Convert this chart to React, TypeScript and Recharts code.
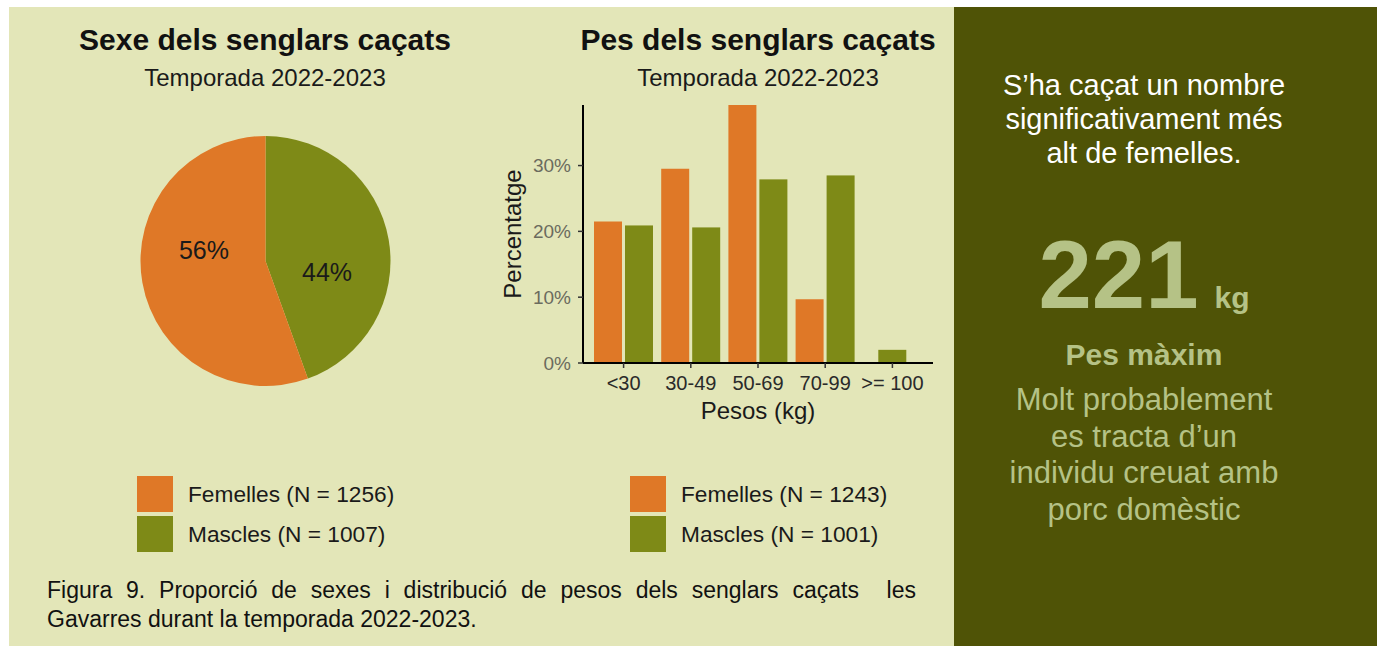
import { PieChart, Pie, Cell, BarChart, Bar, XAxis, YAxis, Label } from "recharts"

const FONT = '"Liberation Sans", Arial, Helvetica, sans-serif'
const ORANGE = "#df7827"
const GREEN = "#7e8a17"
const LIGHT_BG = "#e3e6b8"
const DARK_BG = "#4f5306"
const SOFT = "#b5c286"

// series
const sexes = ["Femelles", "Mascles"]
const sexColors = [ORANGE, GREEN]
const pieCounts = [1256, 1007]
const barCounts = [1243, 1001]

// weight classes (percentatge per sexe)
const weightClasses = ["<30", "30-49", "50-69", "70-99", ">= 100"]
const femalePct = [21.5, 29.5, 39.2, 9.7, null]
const malePct = [20.9, 20.6, 27.9, 28.5, 2.0]
const pctTicks = [0, 10, 20, 30]

const BAR_GAP = 3

// pie goes clockwise from the top: males first, then females
const pieData = [
  { name: sexes[1], value: pieCounts[1], color: sexColors[1] },
  { name: sexes[0], value: pieCounts[0], color: sexColors[0] },
]

const barData = weightClasses.map((c, i) => ({
  classe: c,
  femelles: femalePct[i],
  mascles: malePct[i],
}))

const RAD = Math.PI / 180

// the original figure mirrors its labels across the horizontal, keep that
function PieLabel(props: any) {
  const { cx, cy, midAngle, outerRadius, percent } = props
  const r = outerRadius * 0.5
  const x = cx + r * Math.cos(-midAngle * RAD)
  const y = cy - r * Math.sin(-midAngle * RAD)
  return (
    <text x={x} y={y} textAnchor="middle" dominantBaseline="central" fill="#1a1a1a" fontSize={25} fontFamily={FONT}>
      {Math.round(percent * 100)}%
    </text>
  )
}

// a lone bar in a class (no females) is centred on its tick, as ggplot's dodge does
function MaleBar(props: any) {
  const { x, y, width, height, fill, payload } = props
  if (!height || height <= 0) return null
  const shift = payload && payload.femelles == null ? -(width + BAR_GAP) / 2 : 0
  return <rect x={x + shift} y={y} width={width} height={height} fill={fill} />
}

function Txt({ left, top, size, children, style }: any) {
  return (
    <div
      style={{
        position: "absolute",
        left,
        top,
        fontSize: size,
        lineHeight: 1,
        whiteSpace: "nowrap",
        ...style,
      }}
    >
      {children}
    </div>
  )
}

function LegendBox({ left, counts }: { left: number; counts: number[] }) {
  return (
    <div style={{ position: "absolute", left, top: 476 }}>
      {sexes.map((s, i) => (
        <div key={s} style={{ position: "relative", height: 40 }}>
          <div style={{ position: "absolute", left: 0, top: 0, width: 36, height: 36, background: sexColors[i] }} />
          <div
            style={{
              position: "absolute",
              left: 51,
              top: 7,
              fontSize: 22.7,
              lineHeight: 1,
              color: "#1a1a1a",
              whiteSpace: "nowrap",
            }}
          >
            {s} (N = {counts[i]})
          </div>
        </div>
      ))}
    </div>
  )
}

export default function App() {
  return (
    <div
      style={{
        position: "absolute",
        left: 0,
        top: 0,
        width: 1377,
        height: 646,
        background: "#fff",
        overflow: "hidden",
        fontFamily: FONT,
      }}
    >
      <div style={{ position: "absolute", left: 9, top: 7, width: 945, height: 639, background: LIGHT_BG }} />
      <div style={{ position: "absolute", left: 954, top: 7, width: 423, height: 639, background: DARK_BG }} />

      {/* titles */}
      <Txt left={15} top={25} size={30} style={{ width: 500, textAlign: "center", fontWeight: "bold", color: "#111" }}>
        Sexe dels senglars caçats
      </Txt>
      <Txt left={15} top={66} size={24} style={{ width: 500, textAlign: "center", color: "#1a1a1a" }}>
        Temporada 2022-2023
      </Txt>
      <Txt left={508} top={25} size={30} style={{ width: 500, textAlign: "center", fontWeight: "bold", color: "#111" }}>
        Pes dels senglars caçats
      </Txt>
      <Txt left={508} top={66} size={24} style={{ width: 500, textAlign: "center", color: "#1a1a1a" }}>
        Temporada 2022-2023
      </Txt>

      {/* pie */}
      <div style={{ position: "absolute", left: 115, top: 111 }}>
        <PieChart width={300} height={300} margin={{ top: 0, right: 0, bottom: 0, left: 0 }}>
          <Pie
            data={pieData}
            dataKey="value"
            nameKey="name"
            cx={150.5}
            cy={150}
            outerRadius={125}
            startAngle={90}
            endAngle={-270}
            stroke="none"
            label={PieLabel}
            labelLine={false}
            isAnimationActive={false}
          >
            {pieData.map((d) => (
              <Cell key={d.name} fill={d.color} />
            ))}
          </Pie>
        </PieChart>
      </div>

      {/* bars */}
      <div style={{ position: "absolute", left: 480, top: 90 }}>
        <BarChart
          width={470}
          height={350}
          data={barData}
          margin={{ top: 15, right: 17, bottom: 0, left: 0 }}
          barCategoryGap={4}
          barGap={BAR_GAP}
        >
          <XAxis
            dataKey="classe"
            interval={0}
            padding={{ left: 7, right: 7 }}
            height={77}
            tickSize={5}
            tickMargin={8}
            stroke="#000"
            axisLine={{ stroke: "#000", strokeWidth: 2 }}
            tickLine={{ stroke: "#333", strokeWidth: 1.5 }}
            tick={{ fill: "#2a2a2a", fontSize: 20, fontFamily: FONT }}
          >
            <Label value="Pesos (kg)" position="insideBottom" offset={21} style={{ fontSize: 24, fill: "#1a1a1a", fontFamily: FONT }} />
          </XAxis>
          <YAxis
            domain={[0, 39.2]}
            ticks={pctTicks}
            tickFormatter={(v: number) => `${v}%`}
            width={103}
            tickSize={5}
            tickMargin={7}
            stroke="#000"
            axisLine={{ stroke: "#000", strokeWidth: 2 }}
            tickLine={{ stroke: "#333", strokeWidth: 1.5 }}
            tick={{ fill: "#6b6b5e", fontSize: 19, fontFamily: FONT }}
          >
            <Label
              value="Percentatge"
              angle={-90}
              position="insideLeft"
              offset={32}
              style={{ textAnchor: "middle", fontSize: 24, fill: "#1a1a1a", fontFamily: FONT }}
            />
          </YAxis>
          <Bar dataKey="femelles" fill={ORANGE} isAnimationActive={false} />
          <Bar dataKey="mascles" fill={GREEN} shape={MaleBar} isAnimationActive={false} />
        </BarChart>
      </div>

      {/* legends */}
      <LegendBox left={137} counts={pieCounts} />
      <LegendBox left={630} counts={barCounts} />

      {/* caption */}
      <Txt
        left={47}
        top={579}
        size={23}
        style={{ width: 869, textAlign: "justify", textAlignLast: "justify", color: "#111", whiteSpace: "normal" }}
      >
        Figura 9. Proporció de sexes i distribució de pesos dels senglars caçats &nbsp;les
      </Txt>
      <Txt left={47} top={608} size={23} style={{ color: "#111" }}>
        Gavarres durant la temporada 2022-2023.
      </Txt>

      {/* right panel */}
      <div
        style={{
          position: "absolute",
          left: 954,
          top: 68,
          width: 380,
          textAlign: "center",
          fontSize: 29,
          lineHeight: "34px",
          color: "#fff",
        }}
      >
        S’ha caçat un nombre
        <br />
        significativament més
        <br />
        alt de femelles.
      </div>
      <div
        style={{
          position: "absolute",
          left: 954,
          top: 227,
          width: 380,
          textAlign: "center",
          fontSize: 96,
          lineHeight: 1,
          fontWeight: "bold",
          color: SOFT,
          whiteSpace: "nowrap",
        }}
      >
        221<span style={{ fontSize: 30, marginLeft: 16 }}>kg</span>
      </div>
      <Txt left={954} top={340} size={30} style={{ width: 380, textAlign: "center", fontWeight: "bold", color: SOFT }}>
        Pes màxim
      </Txt>
      <div
        style={{
          position: "absolute",
          left: 954,
          top: 382,
          width: 380,
          textAlign: "center",
          fontSize: 31,
          lineHeight: "36.5px",
          color: SOFT,
        }}
      >
        Molt probablement
        <br />
        es tracta d’un
        <br />
        individu creuat amb
        <br />
        porc domèstic
      </div>
    </div>
  )
}
